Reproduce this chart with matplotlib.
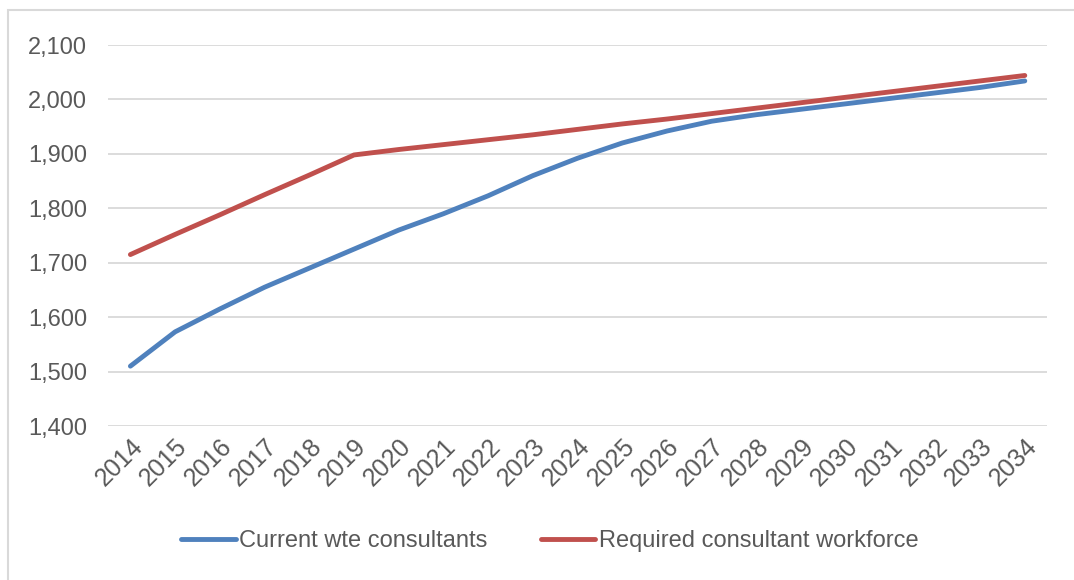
import matplotlib.pyplot as plt
from matplotlib.patches import Rectangle

years = list(range(2014, 2035))
current = [1510, 1573, 1615, 1655, 1690, 1725, 1760, 1790, 1823, 1860, 1892,
           1920, 1942, 1960, 1972, 1982, 1992, 2002, 2012, 2022, 2034]
required = [1715, 1752, 1788, 1825, 1861, 1898, 1908, 1917, 1926, 1935, 1945,
            1955, 1964, 1974, 1984, 1994, 2004, 2014, 2024, 2034, 2044]
labels = ["Current wte consultants", "Required consultant workforce"]
colors = ["#4f81bd", "#c0504d"]

plt.rcParams['font.family'] = ['Liberation Sans', 'DejaVu Sans']
txt = "#595959"

fig = plt.figure(figsize=(10.74, 5.8), dpi=100)
ax = fig.add_axes([0.1006, 0.2655, 0.8744, 0.6569])

x = list(range(len(years)))
ax.plot(x, current, color=colors[0], lw=3.5, solid_capstyle='round', label=labels[0])
ax.plot(x, required, color=colors[1], lw=3.5, solid_capstyle='round', label=labels[1])

ax.set_xlim(-0.5, len(years) - 0.5)
ax.set_ylim(1400, 2100)
ax.set_yticks(range(1400, 2101, 100))
ax.set_yticklabels([f"{v:,}" for v in range(1400, 2101, 100)])
ax.set_xticks(x)
ax.set_xticklabels([str(y) for y in years], rotation=45, ha='right',
                   rotation_mode='anchor')
ax.grid(axis='y', color='#d9d9d9', lw=1.3)
ax.set_axisbelow(True)
for s in ax.spines.values():
    s.set_visible(False)
ax.tick_params(length=0, labelsize=17, colors=txt)
ax.tick_params(axis='y', pad=15)
ax.tick_params(axis='x', pad=6, labelsize=18)

leg = fig.legend(loc='center', bbox_to_anchor=(0.512, 0.067), ncol=2, frameon=False,
                 fontsize=17, handlelength=2.3, handletextpad=0.15, columnspacing=2.25)
for t in leg.get_texts():
    t.set_color(txt)

fig.patches.append(Rectangle((8 / 1074, -0.1), 1.2, 1.1 - 10 / 580,
                             transform=fig.transFigure, fill=False,
                             edgecolor='#d9d9d9', lw=1.5))

fig.savefig("out.png", dpi=100)
